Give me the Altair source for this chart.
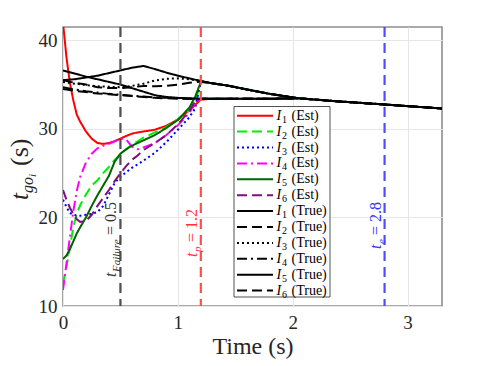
import altair as alt
import pandas as pd

# ---------------- data ----------------
T_EST = [0, 0.03, 0.06, 0.09, 0.12, 0.15, 0.2, 0.25, 0.3, 0.35, 0.4, 0.45, 0.5, 0.55,
         0.6, 0.65, 0.7, 0.8, 0.9, 1.0, 1.1, 1.15, 1.2, 1.3, 1.45, 1.6, 1.8, 2.05]
I1_EST = [42.0, 38.1, 35.2, 33.2, 31.6, 30.8, 29.7, 28.9, 28.4, 28.3, 28.4, 28.6, 28.9, 29.2,
          29.45, 29.6, 29.7, 29.9, 30.35, 31.05, 32.1, 32.7, 33.3, 33.4, 33.4, 33.4, 33.4, 33.45]
I2_EST = [12.5, 14.4, 16.6, 18.9, 20.4, 21.4, 22.6, 23.6, 24.2, 25.0, 25.7, 26.5, 27.1, 27.7,
          28.2, 28.6, 29.0, 29.6, 30.2, 31.1, 32.1, 33.0, 35.3, 35.15, 34.85, 34.45, 33.95, 33.45]
I3_EST = [22.0, 21.2, 20.5, 20.3, 20.2, 20.2, 20.3, 20.4, 20.6, 21.3, 22.6, 23.9, 24.6, 25.1,
          25.6, 26.0, 26.4, 27.3, 28.5, 29.9, 31.3, 32.3, 35.3, 35.15, 34.85, 34.45, 33.95, 33.45]
I4_EST = [11.8, 14.8, 17.8, 20.7, 23.0, 24.6, 26.2, 27.2, 27.8, 28.1, 28.3, 28.6, 28.9, 28.8,
          28.0, 27.7, 27.9, 28.4, 29.3, 30.4, 31.8, 32.9, 33.4, 33.4, 33.4, 33.4, 33.4, 33.45]
I5_EST = [15.3, 15.7, 16.4, 17.3, 18.2, 18.9, 20.0, 21.3, 22.5, 23.6, 24.7, 26.3, 27.2, 27.7,
          28.1, 28.4, 28.7, 29.3, 30.1, 31.0, 32.4, 33.6, 35.3, 35.15, 34.85, 34.45, 33.95, 33.45]
I6_EST = [23.1, 22.0, 21.1, 20.4, 19.8, 19.5, 19.6, 20.3, 21.3, 22.2, 23.1, 24.1, 25.0, 25.8,
          26.5, 27.0, 27.6, 28.4, 29.3, 30.5, 32.0, 33.1, 33.4, 33.4, 33.4, 33.4, 33.4, 33.45]

T_TRUE = [0, 0.1, 0.2, 0.3, 0.4, 0.5, 0.6, 0.7, 0.8, 0.9, 1.0, 1.1, 1.2, 1.3, 1.45, 1.6,
          1.8, 2.05, 2.4, 2.8, 3.3]
I1_TRUE = [36.6, 36.25, 35.9, 35.6, 35.3, 35.0, 34.6, 34.2, 33.8, 33.6, 33.5, 33.45, 33.4,
           33.4, 33.4, 33.4, 33.4, 33.45, 33.1, 32.75, 32.3]
I2_TRUE = [35.5, 35.2, 35.0, 34.7, 34.6, 34.6, 34.7, 34.85, 34.8, 34.85, 35.0, 35.2, 35.35,
           35.15, 34.85, 34.45, 33.95, 33.45, 33.1, 32.75, 32.3]
I3_TRUE = [35.3, 35.1, 34.95, 34.8, 34.75, 34.7, 34.85, 35.1, 35.45, 35.65, 35.7, 35.6, 35.4,
           35.15, 34.85, 34.45, 33.95, 33.45, 33.1, 32.75, 32.3]
I4_TRUE = [34.7, 34.45, 34.25, 34.1, 33.95, 33.85, 33.75, 33.65, 33.55, 33.5, 33.45, 33.4, 33.4,
           33.4, 33.4, 33.4, 33.4, 33.45, 33.1, 32.75, 32.3]
I5_TRUE = [35.5, 35.6, 35.8, 36.0, 36.3, 36.6, 36.9, 37.1, 36.75, 36.35, 36.0, 35.7, 35.4,
           35.15, 34.85, 34.45, 33.95, 33.45, 33.1, 32.75, 32.3]
I6_TRUE = [34.5, 34.3, 34.15, 34.0, 33.9, 33.8, 33.7, 33.6, 33.5, 33.45, 33.4, 33.4, 33.4,
           33.4, 33.4, 33.4, 33.4, 33.45, 33.1, 32.75, 32.3]

VLINE_T = [0.5, 1.2, 2.8]
VLINE_MAIN = ["t", "t", "t"]
VLINE_SUB = ["Failure", "p", "e"]
VLINE_REST = ["= 0.5", "= 1.2", "= 2.8"]

X_TICKS = [0, 1, 2, 3]
Y_TICKS = [10, 20, 30, 40]

# ---------------- styling ----------------
W, H = 379, 279
X_MAX, Y_MIN, Y_MAX = 3.3, 10, 41.5
FONT = "Liberation Serif"
TXT = "#262626"

SOLID = [1, 0]
DASH = [10, 5]
DOT = [2, 3]
DASHDOT = [10, 4, 2, 4]

est_series = [I1_EST, I2_EST, I3_EST, I4_EST, I5_EST, I6_EST]
true_series = [I1_TRUE, I2_TRUE, I3_TRUE, I4_TRUE, I5_TRUE, I6_TRUE]
est_colors = ["#ff0000", "#00ee00", "#0000ff", "#ff00ff", "#006400", "#7e0f7e"]
est_dashes = [SOLID, DASH, DOT, DASHDOT, SOLID, DASH]
true_dashes = [SOLID, DASH, DOT, DASHDOT, SOLID, DASH]

xs = alt.Scale(domain=[0, X_MAX], nice=False, zero=False)
ys = alt.Scale(domain=[Y_MIN, Y_MAX], nice=False, zero=False)
AXCOMMON = dict(format="d", labelFont=FONT, labelFontSize=19, labelColor=TXT,
                titleFont=FONT, titleFontSize=24, titleFontWeight="normal", titleColor=TXT,
                grid=True, gridColor="#e6e6e6", gridWidth=1, domain=False, ticks=False,
                labelFlush=False, labelOverlap=False)
XAX = alt.Axis(values=X_TICKS, title="Time (s)", labelPadding=7, titlePadding=2, **AXCOMMON)
YAX = alt.Axis(values=Y_TICKS, title="", labelPadding=6, **AXCOMMON)


def px_t(px):
    return (px - 63) / W * X_MAX


def py_y(py):
    return Y_MIN + (306 - py) / H * (Y_MAX - Y_MIN)


def X(v):
    return alt.XDatum(v, axis=XAX, scale=xs)


def Y(v):
    return alt.YDatum(v, axis=YAX, scale=ys)


dummy = pd.DataFrame({"t": [0.0], "y": [10.0]})

layers = []


def line_layer(tt, vv, color, dash, width):
    df = pd.DataFrame({"t": tt, "y": vv})
    return alt.Chart(df).mark_line(color=color, strokeDash=dash, strokeWidth=width,
                                   clip=True).encode(
        x=alt.X("t:Q", scale=xs, axis=XAX),
        y=alt.Y("y:Q", scale=ys, axis=YAX),
    )


for vals, c, d in zip(est_series, est_colors, est_dashes):
    layers.append(line_layer(T_EST, vals, c, d, 2))
for vals, d in zip(true_series, true_dashes):
    layers.append(line_layer(T_TRUE, vals, "#000000", d, 2))

# vertical reference lines and their rotated labels
vcolors = ["#4d4d4d", "#ff4d4d", "#4d4dff"]
vtext_colors = ["#333333", "#ff3333", "#3333ff"]
vbottoms = [277, 257, 249]
sub_w = [33, 6, 5]
for v, col, tcol, yb, mn, sb, rest, sw in zip(VLINE_T, vcolors, vtext_colors, vbottoms,
                                             VLINE_MAIN, VLINE_SUB, VLINE_REST, sub_w):
    layers.append(alt.Chart(dummy).mark_rule(color=col, strokeDash=[10, 6], strokeWidth=2.2).encode(
        x=X(v)))
    yv = py_y(yb)
    common = dict(angle=270, align="left", baseline="alphabetic", font=FONT, color=tcol)
    layers.append(alt.Chart(dummy).mark_text(text=mn, fontSize=16, fontStyle="italic",
                                             dx=0, dy=-4, **common).encode(x=X(v), y=Y(yv)))
    layers.append(alt.Chart(dummy).mark_text(text=sb, fontSize=11, fontStyle="italic",
                                             dx=5, dy=0, **common).encode(x=X(v), y=Y(yv)))
    layers.append(alt.Chart(dummy).mark_text(text=rest, fontSize=16,
                                             dx=5 + sw + 4, dy=-4, **common).encode(x=X(v), y=Y(yv)))

# legend box
layers.append(alt.Chart(dummy).mark_rect(fill="white", stroke="#262626", strokeWidth=0.8).encode(
    x=X(px_t(234)), x2=alt.X2Datum(px_t(330)),
    y=Y(py_y(106.5)), y2=alt.Y2Datum(py_y(297))))

rows = []
styles = []
for i in range(12):
    k = i % 6
    kind = "Est" if i < 6 else "True"
    rows.append({"y": py_y(115.7 + 15.9 * i), "num": str(k + 1), "kind": f"({kind})"})
    if i < 6:
        styles.append((est_colors[k], est_dashes[k]))
    else:
        styles.append(("#000000", true_dashes[k]))
leg = pd.DataFrame(rows)

for i, (c, d) in enumerate(styles):
    layers.append(alt.Chart(dummy).mark_rule(color=c, strokeDash=d, strokeWidth=2).encode(
        x=X(px_t(237)), x2=alt.X2Datum(px_t(273)), y=Y(float(leg["y"][i]))))

LY = alt.Y("y:Q", scale=ys, axis=YAX)
layers.append(alt.Chart(leg).mark_text(text="I", font=FONT, fontSize=14, fontStyle="italic",
                                       align="left", baseline="middle").encode(
    x=X(px_t(276.5)), y=LY))
layers.append(alt.Chart(leg).mark_text(font=FONT, fontSize=10, align="left", baseline="middle",
                                       dy=4).encode(
    x=X(px_t(282)), y=LY, text="num:N"))
layers.append(alt.Chart(leg).mark_text(font=FONT, fontSize=14, align="left",
                                       baseline="middle").encode(
    x=X(px_t(291.5)), y=LY, text="kind:N"))

# y-axis title built from pieces: t_{go_i} (s)
ycommon = dict(angle=270, align="left", baseline="alphabetic", font=FONT, color=TXT)
layers.append(alt.Chart(dummy).mark_text(text="t", fontSize=25, fontStyle="italic", **ycommon).encode(
    x=alt.value(-35), y=alt.value(173)))
layers.append(alt.Chart(dummy).mark_text(text="go", fontSize=16, fontStyle="italic", **ycommon).encode(
    x=alt.value(-30), y=alt.value(166)))
layers.append(alt.Chart(dummy).mark_text(text="i", fontSize=11, fontStyle="italic", **ycommon).encode(
    x=alt.value(-27), y=alt.value(150)))
layers.append(alt.Chart(dummy).mark_text(text="(s)", fontSize=26, **ycommon).encode(
    x=alt.value(-35), y=alt.value(139)))

chart = alt.layer(*layers).properties(
    width=W, height=H,
    padding={"left": 55, "top": 19, "right": 30, "bottom": 56},
    autosize=alt.AutoSizeParams(type="none"),
    background="white",
).configure_view(
    stroke="#8f8f8f", strokeWidth=1.6
).configure_axis(
    labelFont=FONT, titleFont=FONT
).configure_text(
    font=FONT
)

chart.save("out.html", embed_options={"renderer": "svg", "actions": False})
